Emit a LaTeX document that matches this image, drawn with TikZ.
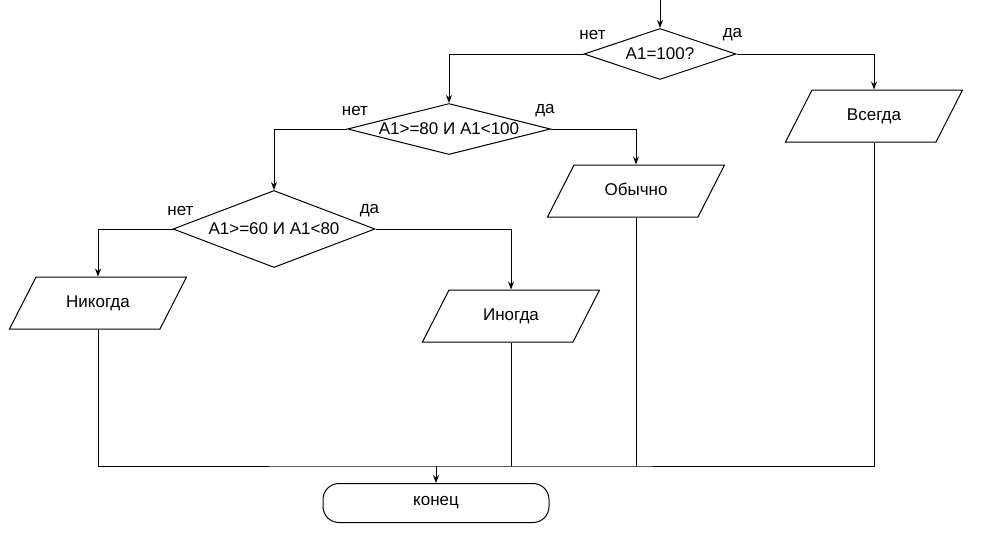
\documentclass[tikz,border=0pt]{standalone}
\usepackage{fontspec}
\setmainfont{Liberation Sans}
\usetikzlibrary{arrows.meta,positioning,shapes.geometric}

\begin{document}
\begin{tikzpicture}[>={Stealth[length=8pt,width=6pt]}, x=1pt, y=-1pt, line width=1pt, font=\fontsize{17}{20}\selectfont]
    \tikzstyle{cond} = [diamond, draw=black, inner sep=0, aspect=1]
    \tikzstyle{io} = [trapezium, trapezium left angle=63, trapezium right angle=117, trapezium stretches body, draw=black, minimum width=177pt, text height=13pt, text depth=4pt, inner xsep=0, inner ysep=17.5pt]
    \tikzstyle{term} = [rectangle, draw=black, rounded corners=16pt, minimum width=226pt, minimum height=39pt]
    \tikzstyle{lbl} = [inner sep=0]
    \tikzstyle{flow} = [->, black]
    \useasboundingbox (0,0) rectangle (984,544);

    \coordinate (start) at (660,0);
    \node[cond, minimum width=152pt, minimum height=51pt, label=center:{A1=100?}] (d1) at (660,54) {};
    \node[cond, minimum width=203pt, minimum height=51pt, label=center:{A1>=80 И A1<100}] (d2) at (449,129) {};
    \node[cond, minimum width=202pt, minimum height=77pt, label=center:{A1>=60 И A1<80}] (d3) at (274,229) {};

    \node[io] (vsegda) at (874,116) {Всегда};
    \node[io] (obychno) at (636,191) {Обычно};
    \node[io] (inogda) at (511,316) {Иногда};
    \node[io] (nikogda) at (98,303) {Никогда};
    \node[term] (konec) at (436,503) {конец};

    \node[lbl] (no1) at ([shift={(9,-19)}]d1.west) {нет};
    \node[lbl] (yes1) at ([shift={(-4,-19)}]d1.east) {да};
    \node[lbl] (no2) at ([shift={(8,-18)}]d2.west) {нет};
    \node[lbl] (yes2) at ([shift={(-6,-18)}]d2.east) {да};
    \node[lbl] (no3) at ([shift={(8,-18)}]d3.west) {нет};
    \node[lbl] (yes3) at ([shift={(-6,-18)}]d3.east) {да};

    \draw[flow] (start) -- (d1);
    \draw[flow] (d1.west) -| (d2);
    \draw[flow] (d1.east) -| (vsegda);
    \draw[flow] (d2.west) -| (d3);
    \draw[flow] (d2.east) -| (obychno);
    \draw[flow] (d3.west) -| (nikogda);
    \draw[flow] (d3.east) -| (inogda);

    \coordinate (join) at (436,466);
    \draw (nikogda.south) |- (join) -| (vsegda.south);
    \draw (inogda.south) -- (inogda.south |- join);
    \draw (obychno.south) -- (obychno.south |- join);
    \draw[flow] (join) -- (konec);
\end{tikzpicture}
\end{document}
